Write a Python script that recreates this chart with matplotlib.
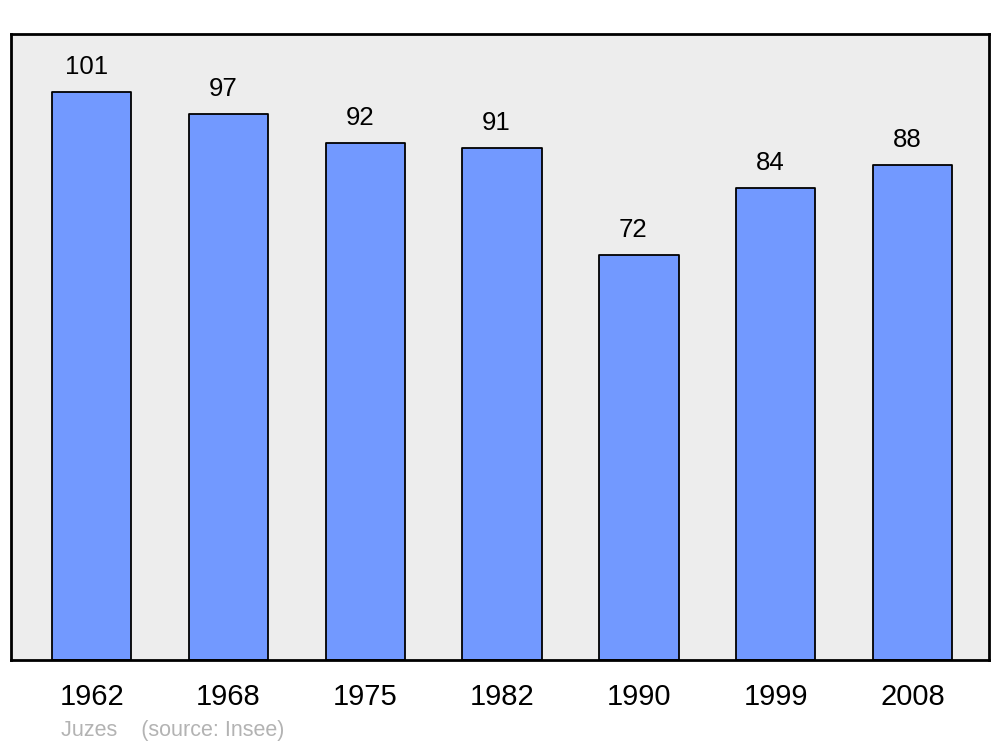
import matplotlib
matplotlib.use("Agg")
import matplotlib.pyplot as plt

plt.rcParams['font.family'] = ['Liberation Sans', 'DejaVu Sans']

years = ['1962', '1968', '1975', '1982', '1990', '1999', '2008']
population = [101, 97, 92, 91, 72, 84, 88]

fig = plt.figure(figsize=(10, 7.47), dpi=100)
ax = fig.add_axes([0.011, 0.1165, 0.978, 0.838])
ax.set_facecolor('#ededed')

x = range(len(years))
bars = ax.bar(x, population, width=0.58, color='#7299ff',
              edgecolor='black', linewidth=1.3)
for b in bars:
    b.set_joinstyle('round')

for xi, v in zip(x, population):
    ax.annotate(str(v), (xi, v), xytext=(-4, 18), textcoords='offset points',
                ha='center', va='center', fontsize=18.5)

ax.set_xlim(-0.59, 6.56)
ax.set_ylim(0, 111.3)
ax.set_yticks([])
ax.set_xticks(list(x))
ax.set_xticklabels(years, fontsize=21)
ax.tick_params(axis='x', length=0, pad=16.5)

for s in ax.spines.values():
    s.set_linewidth(2.0)
    s.set_joinstyle('round')

fig.text(0.061, 0.0225, 'Juzes    (source: Insee)', fontsize=15.5,
         color='#b3b3b3', ha='left', va='center')

fig.savefig('out.png', dpi=100)
